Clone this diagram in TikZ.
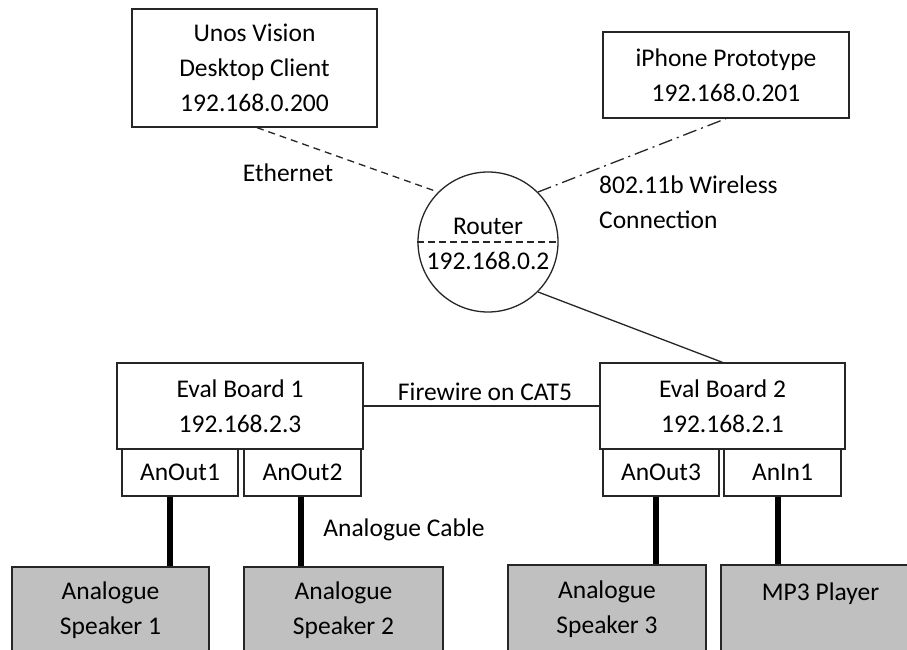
\documentclass[tikz,border=0pt]{standalone}
\usepackage{fontspec}
\setmainfont{Carlito}
\usetikzlibrary{calc}

\definecolor{edge}{HTML}{262626}
\definecolor{devgray}{HTML}{C0C0C0}

\tikzset{
  lbl/.style={font=\fontsize{25.5pt}{35pt}\selectfont, inner sep=0pt, align=center},
  box/.style={lbl, draw=edge, line width=1.3pt, fill=white},
  devbox/.style={box, fill=devgray},
  port/.style={box, minimum width=116pt, minimum height=47pt},
  link/.style={draw=edge, line width=1.3pt},
  cable/.style={draw=black, line width=6pt},
}

\begin{document}
\begin{tikzpicture}[x=1pt, y=-1pt]
  \clip (0,0) rectangle (907,650);
  \fill[white] (0,0) rectangle (907,650);

  % top row: client, phone, router
  \node[box, minimum width=245pt, minimum height=118pt] (unos) at (254.5,68)
    {Unos Vision\\Desktop Client\\192.168.0.200};
  \node[box, minimum width=246pt, minimum height=86pt] (iphone) at (726,75)
    {iPhone Prototype\\192.168.0.201};
  \node[circle, draw=edge, line width=1.3pt, minimum size=140pt, inner sep=0pt] (router) at (488,242) {};
  \draw[link, dashed, dash pattern=on 7pt off 4pt] (router.west) -- (router.east);
  \node[lbl] (rname) at (488,226) {Router};
  \node[lbl] (rip) at (488,261) {192.168.0.2};

  % evaluation boards and their ports
  \node[box, minimum width=246pt, minimum height=86pt] (eb1) at (240,406)
    {Eval Board 1\\192.168.2.3};
  \node[box, minimum width=245pt, minimum height=86pt] (eb2) at (722.5,406)
    {Eval Board 2\\192.168.2.1};
  \node[port] (ao1) at (180,472.5) {AnOut1};
  \node[port, minimum width=117pt] (ao2) at (302.5,472.5) {AnOut2};
  \node[port] (ao3) at (661,472.5) {AnOut3};
  \node[port, minimum width=117pt] (ai1) at (782.5,472.5) {AnIn1};

  % audio devices
  \node[devbox, minimum width=197pt, minimum height=87pt] (sp1) at (110.5,610.5)
    {Analogue\\Speaker 1};
  \node[devbox, minimum width=199pt, minimum height=87pt] (sp2) at (343.5,610.5)
    {Analogue\\Speaker 2};
  \node[devbox, minimum width=198pt, minimum height=89pt] (sp3) at (607,609.5)
    {Analogue\\Speaker 3};
  \node[devbox, minimum width=199pt, minimum height=89pt] (mp3) at (820.5,609.5)
    {MP3 Player\\\phantom{X}};

  % network links
  \draw[link, dash pattern=on 7pt off 5pt] (unos.south) ++(2.5,0) -- (router.135);
  \draw[link, dash pattern=on 14pt off 5pt on 2pt off 5pt] (router.45) -- (iphone.south);
  \draw[link] (router.-45) -- (eb2.north);
  \draw[link] (eb1.east) -- (eb2.west);

  % analogue cables
  \coordinate (c1) at ($(ao1.south)+(-10,0)$);
  \coordinate (c2) at ($(ao2.south)+(-1.5,0)$);
  \coordinate (c3) at ($(ao3.south)+(-5,0)$);
  \coordinate (c4) at ($(ai1.south)+(-4.5,0)$);
  \draw[cable] (c1) -- (c1 |- sp1.north);
  \draw[cable] (c2) -- (c2 |- sp2.north);
  \draw[cable] (c3) -- (c3 |- sp3.north);
  \draw[cable] (c4) -- (c4 |- mp3.north);

  % link labels
  \node[lbl] (eth) at (288,173) {Ethernet};
  \node[lbl, anchor=west, align=left] (wifi) at (599,202.5) {802.11b Wireless\\Connection};
  \node[lbl] (fw) at (485,392) {Firewire on CAT5};
  \node[lbl] (ac) at (404,530) {Analogue Cable};
\end{tikzpicture}
\end{document}
